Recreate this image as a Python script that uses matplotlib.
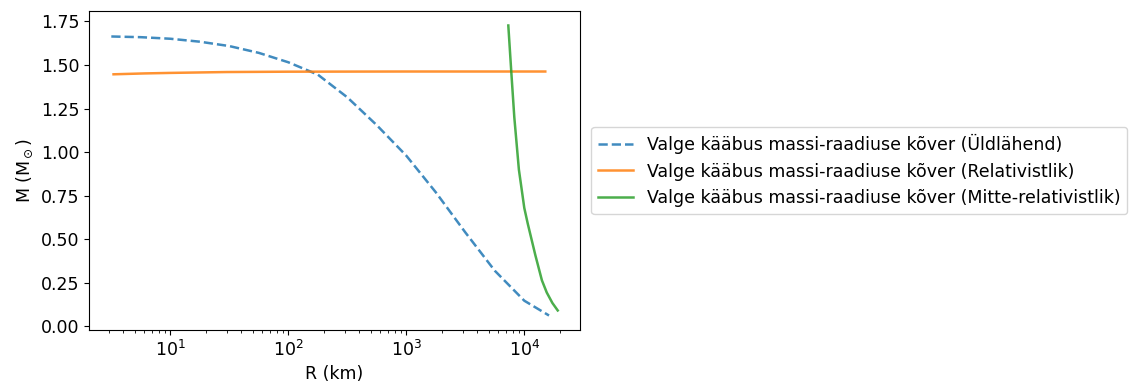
import matplotlib
matplotlib.use("Agg")
import matplotlib.pyplot as plt

r_general = [3.16, 5.62, 10, 17.8, 31.6, 56.2, 100, 178, 316, 562, 1000, 1778,
             3162, 5623, 10000, 16200]
m_general = [1.664, 1.660, 1.651, 1.634, 1.609, 1.570, 1.516, 1.445, 1.315, 1.155,
             0.98, 0.77, 0.54, 0.32, 0.148, 0.063]

r_rel = [3.3, 6, 10, 30, 100, 1000, 15060]
m_rel = [1.447, 1.452, 1.455, 1.460, 1.462, 1.463, 1.463]

r_nonrel = [7320, 7760, 8230, 9000, 10000, 10700, 12400, 14100, 15500, 17300, 19200]
m_nonrel = [1.727, 1.46, 1.20, 0.90, 0.68, 0.59, 0.41, 0.265, 0.195, 0.135, 0.092]

labels = ["Valge kääbus massi-raadiuse kõver (Üldlähend)",
          "Valge kääbus massi-raadiuse kõver (Relativistlik)",
          "Valge kääbus massi-raadiuse kõver (Mitte-relativistlik)"]

plt.rcParams["font.size"] = 12.5
fig = plt.figure(figsize=(11.38, 3.9), dpi=100)
ax = fig.add_axes([0.0782, 0.1538, 0.4315, 0.818])

ax.plot(r_general, m_general, "--", color="tab:blue", lw=1.8, alpha=0.85, label=labels[0])
ax.plot(r_rel, m_rel, "-", color="tab:orange", lw=1.8, alpha=0.85, label=labels[1])
ax.plot(r_nonrel, m_nonrel, "-", color="tab:green", lw=1.8, alpha=0.85, label=labels[2])

ax.set_xscale("log")
ax.set_xlabel("R (km)")
ax.set_ylabel(r"M (M$_\odot$)")
ax.set_yticks([0, 0.25, 0.5, 0.75, 1.0, 1.25, 1.5, 1.75])
ax.legend(loc="center left", bbox_to_anchor=(1.005, 0.5))

fig.savefig("out.png", dpi=100)
